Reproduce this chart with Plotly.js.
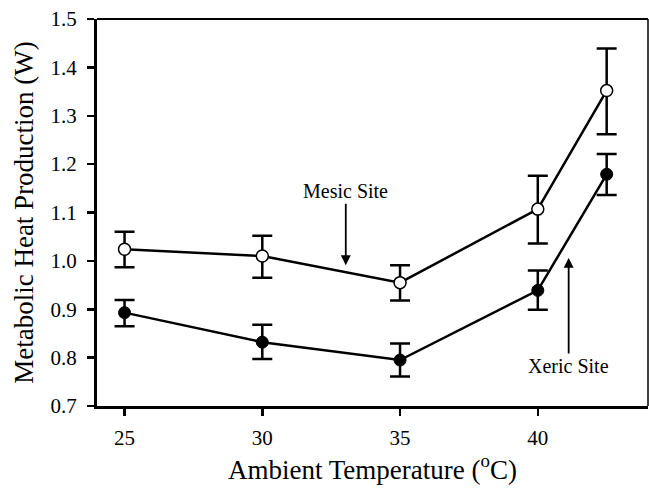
<!DOCTYPE html>
<html><head><meta charset="utf-8">
<script src="https://cdn.plot.ly/plotly-3.0.1.min.js"></script>
<style>html,body{margin:0;padding:0;background:#fff}#chart{width:649px;height:493px}</style>
</head><body><div id="chart"></div>
<script>
const temps = [25, 30, 35, 40, 42.5];
const mesicMean = [1.024, 1.010, 0.955, 1.107, 1.352];
const mesicUpper = [1.060, 1.052, 0.991, 1.176, 1.439];
const mesicLower = [0.987, 0.965, 0.918, 1.036, 1.262];
const xericMean = [0.893, 0.832, 0.795, 0.939, 1.179];
const xericUpper = [0.919, 0.868, 0.829, 0.980, 1.221];
const xericLower = [0.865, 0.797, 0.761, 0.899, 1.136];
const xTicks = [25, 30, 35, 40];
const yTicks = [0.7, 0.8, 0.9, 1.0, 1.1, 1.2, 1.3, 1.4, 1.5];

function errs(mean, up, lo) {
  return {
    type: 'data', symmetric: false,
    array: mean.map((m, i) => up[i] - m),
    arrayminus: mean.map((m, i) => m - lo[i]),
    color: '#000', thickness: 2.5, width: 10
  };
}
const font = 'Liberation Serif, Times New Roman, serif';
const traces = [
  { x: temps, y: xericMean, mode: 'lines+markers', type: 'scatter',
    line: {color: '#000', width: 2.5},
    marker: {symbol: 'circle', size: 12, color: '#000', line: {color: '#000', width: 1}},
    error_y: errs(xericMean, xericUpper, xericLower), cliponaxis: false },
  { x: temps, y: mesicMean, mode: 'lines+markers', type: 'scatter',
    line: {color: '#000', width: 2.5},
    marker: {symbol: 'circle', size: 12, color: '#fff', line: {color: '#000', width: 1.5}},
    error_y: errs(mesicMean, mesicUpper, mesicLower), cliponaxis: false }
];
const layout = {
  width: 649, height: 493,
  margin: {l: 97, r: 1, t: 19, b: 87},
  paper_bgcolor: '#fff', plot_bgcolor: '#fff',
  showlegend: false,
  font: {family: font, color: '#000', size: 21},
  xaxis: {
    range: [24, 44], tickvals: xTicks, ticktext: xTicks.map(String),
    showgrid: false, zeroline: false,
    showline: true, linecolor: '#000', linewidth: 3,
    ticks: 'outside', ticklen: 7, tickwidth: 2.5, tickcolor: '#000',
    tickfont: {family: font, size: 21}, ticklabelstandoff: 4,
    title: {text: 'Ambient Temperature (<sup>o</sup>C)', font: {family: font, size: 27}, standoff: 8}
  },
  yaxis: {
    range: [0.7, 1.5], tickvals: yTicks, ticktext: yTicks.map(v => v.toFixed(1)),
    showgrid: false, zeroline: false,
    showline: true, linecolor: '#000', linewidth: 3,
    ticks: 'outside', ticklen: 7, tickwidth: 2.5, tickcolor: '#000',
    tickfont: {family: font, size: 21}, ticklabelstandoff: 6,
    title: {text: 'Metabolic Heat Production (W)', font: {family: font, size: 27}, standoff: 10}
  },
  shapes: [
    {type: 'line', xref: 'paper', yref: 'paper', x0: 0, x1: 1, y0: 1, y1: 1, line: {color: '#000', width: 2}},
    {type: 'line', xref: 'paper', yref: 'paper', x0: 1, x1: 1, y0: 0, y1: 1, line: {color: '#000', width: 1.5}}
  ],
  annotations: [
    {x: 33.03, y: 0.991, ax: 0, ay: -74, xref: 'x', yref: 'y',
     text: 'Mesic Site', font: {family: font, size: 20}, showarrow: true,
     arrowhead: 2, arrowsize: 1.1, arrowwidth: 1.8, arrowcolor: '#000'},
    {x: 41.12, y: 1.006, ax: 0, ay: 108, xref: 'x', yref: 'y',
     text: 'Xeric Site', font: {family: font, size: 20}, showarrow: true,
     arrowhead: 2, arrowsize: 1.1, arrowwidth: 1.8, arrowcolor: '#000'}
  ]
};
Plotly.newPlot('chart', traces, layout, {staticPlot: true, displayModeBar: false});
</script></body></html>
